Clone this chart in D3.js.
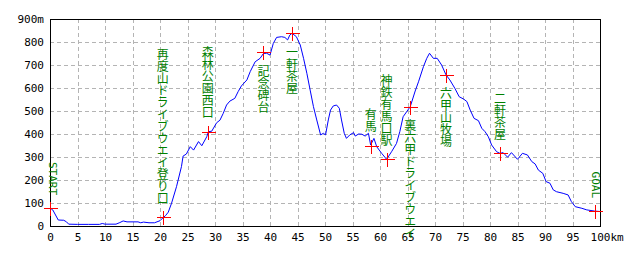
<!DOCTYPE html>
<html>
<head>
<meta charset="utf-8">
<script src="https://cdn.jsdelivr.net/npm/d3@7"></script>
<style>
  body { margin: 0; background: #fff; }
  svg { display: block; }
  .tick text { font-family: "DejaVu Sans Mono", monospace; font-size: 11px; fill: #000; }
  .vlabel { writing-mode: vertical-rl; font-family: "Noto Sans CJK JP"; font-size: 12px; }
</style>
</head>
<body>
<svg id="chart" width="640" height="256"></svg>
<script>
// elevation profile (km, m)
var distKm = [0, 0.5, 1.5, 2.5, 3, 3.4, 5, 7, 9, 9.5, 10, 12, 12.7, 13.3, 14, 16, 16.5, 17, 18, 19,
    20, 20.5, 21, 21.5, 22.1, 23, 23.9, 24.2, 24.8, 25.5, 26.1, 27, 27.6, 28.5, 28.8, 29.4, 30.3, 30.9,
    31.5, 32.1, 32.7, 33.6, 34.2, 34.8, 35.8, 36.4, 37.3, 38.2, 38.8, 39.4, 40, 40.6, 41.2, 42.1, 42.7,
    43.2, 43.6, 44, 44.8, 45.5, 46.1, 46.7, 47.3, 47.9, 48.5, 49.2, 49.7, 50.1, 50.6, 51, 51.5, 52.1,
    52.6, 53, 53.5, 53.9, 54.5, 55.2, 55.5, 56.1, 56.7, 57.3, 57.9, 58.3, 58.9, 59.4, 60.3, 61.2, 62.1,
    63, 63.6, 64.2, 65.5, 66.4, 67, 67.9, 68.5, 69, 69.7, 70.4, 71.2, 72, 72.7, 73.6, 74.4, 75.2, 75.8,
    76.4, 77.1, 77.9, 78.5, 79.1, 79.7, 80.3, 81.2, 81.8, 82.4, 83.2, 83.9, 85, 85.9, 86.8, 87.6, 88.2,
    88.8, 89.6, 90.2, 90.9, 91.5, 92.1, 93.3, 94.2, 94.8, 95.5, 96.7, 97.6, 99, 100];
var elevM = [78, 70, 26, 25, 18, 8, 7, 7, 7, 11, 8, 8, 15, 22, 18, 18, 14, 17, 14, 14,
    23, 35, 45, 60, 99, 171, 258, 304, 313, 345, 330, 367, 349, 388, 410, 412, 449, 460,
    490, 526, 543, 555, 584, 609, 635, 671, 714, 729, 750, 751, 743, 794, 820, 823, 820,
    809, 830, 838, 823, 787, 729, 664, 591, 519, 461, 396, 403, 396, 461, 504, 522, 526,
    512, 461, 403, 381, 396, 406, 391, 400, 399, 391, 403, 352, 381, 345, 316, 290, 323,
    359, 410, 475, 519, 587, 627, 693, 729, 751, 729, 729, 700, 657, 635, 599, 562, 552, 541,
    504, 468, 458, 425, 410, 388, 352, 323, 316, 319, 299, 319, 290, 316, 309, 280, 270,
    243, 229, 193, 186, 157, 149, 142, 135, 106, 84, 77, 70, 65, 63];

// waypoints
var wpKm = [0, 20.5, 28.7, 38.8, 44, 58.3, 61.2, 65.5, 72, 81.8, 99];
var wpM = [78, 38, 410, 755, 838, 349, 290, 519, 657, 316, 65];
var wpName = ["START", "再度山ドライブウエイ登り口", "森林公園西口", "記念碑台", "一軒茶屋", "有馬",
    "神鉄有馬口駅", "裏六甲ドライブウエイ", "六甲山牧場", "二軒茶屋", "GOAL"];
var wpSide = ["up", "up", "up", "down", "down", "up", "up", "down", "down", "up", "up"];

var xTicks = d3.range(0, 101, 5);
var yTicks = d3.range(0, 901, 100);

var svg = d3.select("#chart");
var x = d3.scaleLinear().domain([0, 100]).range([50, 600]);
var y = d3.scaleLinear().domain([0, 900]).range([226, 19]);

// grid
var grid = svg.append("g").attr("stroke", "#b4b4b4").attr("stroke-dasharray", "4,3")
    .attr("shape-rendering", "crispEdges");
grid.selectAll("line.v").data(xTicks.slice(1, -1)).enter().append("line")
    .attr("x1", d => Math.round(x(d)) + 0.5).attr("x2", d => Math.round(x(d)) + 0.5)
    .attr("y1", y(900)).attr("y2", y(0));
grid.selectAll("line.h").data(yTicks.slice(1, -1)).enter().append("line")
    .attr("y1", d => Math.round(y(d)) + 0.5).attr("y2", d => Math.round(y(d)) + 0.5)
    .attr("x1", x(0)).attr("x2", x(100));

// axes (labels only)
var xAxis = svg.append("g").attr("transform", "translate(0,226)")
    .call(d3.axisBottom(x).tickValues(xTicks).tickSize(0).tickPadding(7).tickFormat(d3.format("d")));
xAxis.select(".domain").remove();
xAxis.selectAll(".tick").filter(d => d === 100).append("text")
    .attr("x", 10).attr("y", 7).attr("dy", "0.71em").attr("text-anchor", "start")
    .attr("fill", "#000").text("km");

var yAxis = svg.append("g").attr("transform", "translate(44,0)")
    .call(d3.axisLeft(y).tickValues(yTicks).tickSize(0).tickPadding(0)
        .tickFormat(d => d === 900 ? "900m" : d));
yAxis.select(".domain").remove();

// frame
svg.append("rect").attr("x", 50.5).attr("y", 19.5).attr("width", 550).attr("height", 207)
    .attr("fill", "none").attr("stroke", "#000").attr("shape-rendering", "crispEdges");

// profile line
var line = d3.line().x((d, i) => x(distKm[i])).y((d, i) => y(elevM[i]));
svg.append("path").datum(elevM).attr("d", line)
    .attr("fill", "none").attr("stroke", "#0000ff").attr("stroke-width", 1);

// waypoint crosses
var wp = svg.append("g").selectAll("g").data(wpKm).enter().append("g")
    .attr("transform", (d, i) => "translate(" + Math.round(x(d)) + "," + Math.round(y(wpM[i])) + ")");
wp.append("path").attr("d", "M-6.5,0.5H7.5M0.5,-6.5V7.5")
    .attr("stroke", "#ff0000").attr("fill", "none").attr("shape-rendering", "crispEdges");

// labels
var gap = 13;
wpName.forEach(function(name, i) {
    var cx = x(wpKm[i]), cy = y(wpM[i]);
    var up = wpSide[i] === "up";
    if (name === "START" || name === "GOAL") {
        var ox = name === "START" ? cx + 2 : cx + 1;
        svg.append("text").attr("fill", "#008000")
            .attr("font-family", "DejaVu Sans Mono, monospace").attr("font-size", 11)
            .attr("text-anchor", "end").attr("dominant-baseline", "central")
            .attr("transform", "translate(" + ox + "," + (cy - gap) + ") rotate(90)")
            .text(name);
        return;
    }
    svg.append("text").attr("class", "vlabel").attr("fill", "#008000")
        .attr("x", cx).attr("y", up ? cy - gap : cy + gap)
        .attr("text-anchor", up ? "end" : "start")
        .text(name);
});
</script>
</body>
</html>
